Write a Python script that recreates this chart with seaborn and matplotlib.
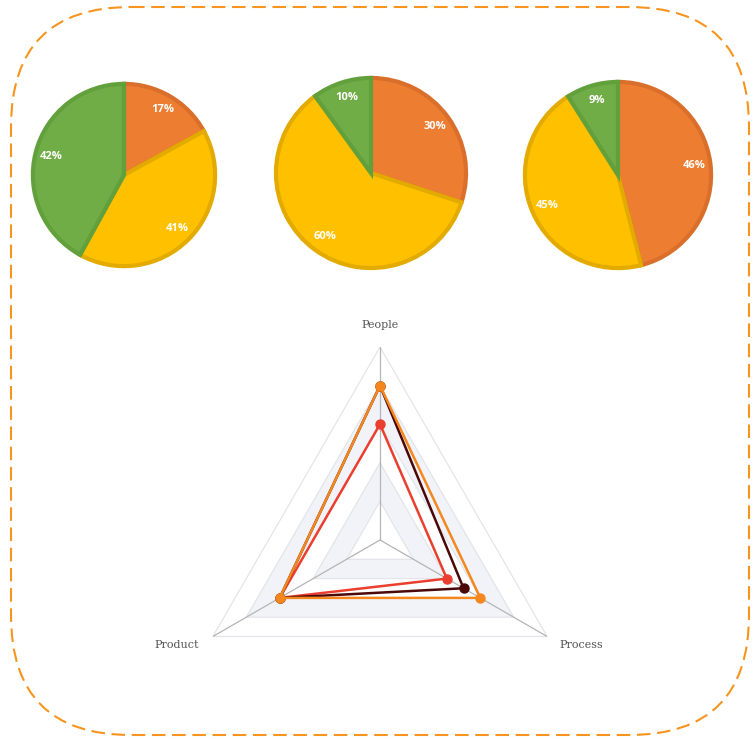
import numpy as np
import matplotlib
matplotlib.use("Agg")
import matplotlib.pyplot as plt
from matplotlib.patches import FancyBboxPatch
import seaborn as sns

sns.set_theme(style="white")
plt.rcParams["font.family"] = ["DejaVu Sans"]

# ---- data -------------------------------------------------------------
pie_a = [17, 41, 42]
pie_b = [30, 60, 10]
pie_c = [46, 45, 9]

axes_names = ["People", "Process", "Product"]
series_orange = [80, 60, 60]
series_dark = [80, 50, 60]
series_red = [60, 40, 60]
radar_max = 100
radar_levels = 5

# ---- styling ----------------------------------------------------------
slice_fill = ["#ED7D31", "#FFC000", "#70AD47"]
slice_edge = ["#D96F2B", "#E3AA00", "#62A03C"]
line_colors = {"orange": "#F5871F", "dark": "#4A0808", "red": "#EA3F2E"}

W, H = 754, 739
fig = plt.figure(figsize=(W / 100, H / 100), dpi=100)


def px_axes(cx, cy, half_w, half_h=None, **kw):
    """Create axes centred on a pixel position (y measured from the top)."""
    half_h = half_w if half_h is None else half_h
    return fig.add_axes([(cx - half_w) / W, 1 - (cy + half_h) / H,
                         2 * half_w / W, 2 * half_h / H], **kw)


# dashed rounded frame around everything
bg = fig.add_axes([0, 0, 1, 1])
bg.set_xlim(0, W)
bg.set_ylim(H, 0)
bg.axis("off")
bg.add_patch(FancyBboxPatch((11, 7), 738, 728,
                            boxstyle="round,pad=0,rounding_size=120",
                            fill=False, edgecolor="#F7941D", linewidth=1.5,
                            linestyle=(0, (6.5, 3.2))))

# ---- pies ---------------------------------------------------------------
pies = [(pie_a, 124, 175, 93), (pie_b, 371, 173, 97), (pie_c, 618, 175, 95)]
for values, cx, cy, r in pies:
    pad = 1.05
    ax = px_axes(cx, cy, r * pad)
    wedges, _, autotexts = ax.pie(
        values, colors=slice_fill, startangle=90, counterclock=False,
        radius=0.98, autopct="%.0f%%", pctdistance=0.83,
        wedgeprops=dict(linewidth=3.0),
        textprops=dict(color="white", fontweight="bold", fontsize=8,
                       family="Open Sans"))
    for w, ec in zip(wedges, slice_edge):
        w.set_edgecolor(ec)
    ax.set_xlim(-pad, pad)
    ax.set_ylim(-pad, pad)
    ax.set_aspect("equal")
    ax.axis("off")

# ---- radar ------------------------------------------------------------
R_px = 193
rad = px_axes(380, 540, R_px, projection="polar")
rad.set_theta_offset(np.pi / 2)
rad.set_theta_direction(-1)
rad.set_ylim(0, radar_max)
rad.grid(False)
rad.set_xticks([])
rad.set_yticks([])
rad.spines["polar"].set_visible(False)
rad.patch.set_alpha(0)

n = len(axes_names)
theta = np.linspace(0, 2 * np.pi, n, endpoint=False)
theta_closed = np.append(theta, theta[0])

levels = np.linspace(0, radar_max, radar_levels + 1)
for i in range(radar_levels):
    lo, hi = levels[i], levels[i + 1]
    if i % 2 == 1:
        ring_t = np.concatenate([theta_closed, theta_closed[::-1]])
        ring_r = np.concatenate([np.full(n + 1, hi), np.full(n + 1, lo)])
        rad.fill(ring_t, ring_r, color="#F2F3F8", lw=0, zorder=1)
for lv in levels[1:]:
    rad.plot(theta_closed, np.full(n + 1, lv), color="#E3E5EB", lw=0.9,
             zorder=2)
for t in theta:
    rad.plot([t, t], [0, radar_max], color="#B5B5B5", lw=0.9, zorder=2)

for vals, key in [(series_red, "red"), (series_dark, "dark"),
                  (series_orange, "orange")]:
    v = np.append(vals, vals[0])
    rad.plot(theta_closed, v, color=line_colors[key], lw=1.8, zorder=4,
             marker="o", markersize=6.5, markevery=range(n),
             solid_joinstyle="miter")

label_pos = [(380, 325), (581, 645), (177, 645)]
for name, (lx, ly) in zip(axes_names, label_pos):
    bg.text(lx, ly, name, ha="center", va="center", fontsize=8,
            family="DejaVu Serif", color="#555555")

fig.savefig("out.png", dpi=100)
